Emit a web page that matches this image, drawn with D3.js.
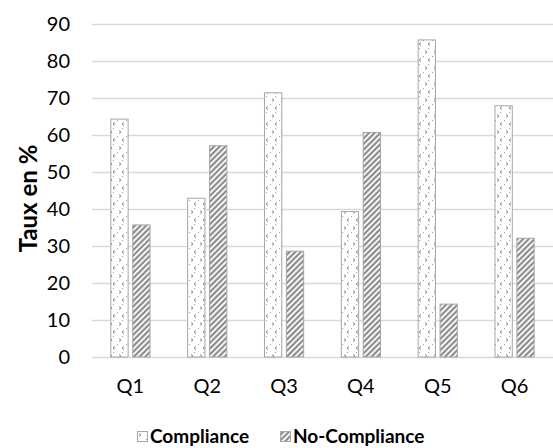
<!DOCTYPE html>
<html>
<head>
<meta charset="utf-8">
<script src="https://cdn.jsdelivr.net/npm/d3@7"></script>
<style>
  html, body { margin: 0; padding: 0; background: #fff; }
  svg { display: block; font-family: Lato, "Open Sans", sans-serif; }
</style>
</head>
<body>
<svg id="chart" width="553" height="448"></svg>
<script>
// Questions and the share of answers (%) per question
const categories = ["Q1", "Q2", "Q3", "Q4", "Q5", "Q6"];
const compliance = [64.3, 42.9, 71.4, 39.3, 85.7, 67.9];
const noCompliance = [35.7, 57.1, 28.6, 60.7, 14.3, 32.1];
const seriesNames = ["Compliance", "No-Compliance"];
const yTicks = [0, 10, 20, 30, 40, 50, 60, 70, 80, 90];
const yTitle = "Taux en %";

const svg = d3.select("#chart");
const plot = { left: 92, right: 553, top: 24, bottom: 357 };

const x = d3.scaleBand().domain(categories).range([plot.left, plot.right]).padding(0);
const y = d3.scaleLinear().domain([0, 90]).range([plot.bottom, plot.top]);

// Fill patterns
const defs = svg.append("defs");
const dots = defs.append("pattern")
  .attr("id", "pat-compliance")
  .attr("patternUnits", "userSpaceOnUse")
  .attr("width", 9).attr("height", 16);
dots.append("rect").attr("width", 9).attr("height", 16).attr("fill", "#fff");
dots.append("path")
  .attr("d", "M2,2.5 L4,4 L2,5.5 M7,10.5 L5,12 L7,13.5")
  .attr("fill", "none").attr("stroke", "#8a8a8a").attr("stroke-width", 1);
dots.append("rect").attr("x", 0).attr("y", 8).attr("width", 1).attr("height", 1).attr("fill", "#9a9a9a");
dots.append("rect").attr("x", 5).attr("y", 0).attr("width", 1).attr("height", 1).attr("fill", "#9a9a9a");

const stripes = defs.append("pattern")
  .attr("id", "pat-nocompliance")
  .attr("patternUnits", "userSpaceOnUse")
  .attr("width", 4).attr("height", 4)
  .attr("patternTransform", "rotate(45)");
stripes.append("rect").attr("width", 4).attr("height", 4).attr("fill", "#8c8c8c");
stripes.append("rect").attr("x", 0).attr("width", 1.8).attr("height", 4).attr("fill", "#fff");

// Gridlines
svg.append("g")
  .selectAll("line")
  .data(yTicks)
  .join("line")
  .attr("x1", plot.left).attr("x2", plot.right)
  .attr("y1", d => Math.round(y(d)) + 0.5).attr("y2", d => Math.round(y(d)) + 0.5)
  .attr("stroke", "#d9d9d9").attr("stroke-width", 1.5);

// Y axis labels
const yAxis = svg.append("g")
  .attr("transform", `translate(${plot.left},0)`)
  .call(d3.axisLeft(y).tickValues(yTicks).tickSize(0).tickPadding(22));
yAxis.select(".domain").remove();
yAxis.selectAll("text")
  .attr("font-family", "Lato, sans-serif")
  .attr("font-size", 20).attr("fill", "#000");

// X axis labels
const xAxis = svg.append("g")
  .attr("transform", `translate(0,${plot.bottom})`)
  .call(d3.axisBottom(x).tickSize(0).tickPadding(22));
xAxis.select(".domain").remove();
xAxis.selectAll("text")
  .attr("font-family", "Lato, sans-serif")
  .attr("font-size", 20).attr("fill", "#000");

// Bars
const bw = x.bandwidth() * 0.225;
const gap = x.bandwidth() * 0.06;
const series = [
  { name: seriesNames[0], values: compliance, fill: "url(#pat-compliance)", dx: -gap / 2 - bw },
  { name: seriesNames[1], values: noCompliance, fill: "url(#pat-nocompliance)", dx: gap / 2 }
];
series.forEach(s => {
  svg.append("g")
    .selectAll("rect")
    .data(categories.map((c, i) => ({ c, v: s.values[i] })))
    .join("rect")
    .attr("x", d => x(d.c) + x.bandwidth() / 2 + s.dx)
    .attr("y", d => y(d.v))
    .attr("width", bw)
    .attr("height", d => y(0) - y(d.v))
    .attr("fill", s.fill)
    .attr("stroke", "#a6a6a6")
    .attr("stroke-width", 1);
});

// Y axis title
svg.append("text")
  .attr("transform", `translate(37,${(plot.top + plot.bottom) / 2 + 8}) rotate(-90)`)
  .attr("text-anchor", "middle")
  .attr("font-family", "Lato, sans-serif")
  .attr("font-weight", "bold")
  .attr("font-size", 24)
  .text(yTitle);

// Legend
const legend = svg.append("g");
const legendX = [137, 280];
series.forEach((s, i) => {
  const g = legend.append("g").attr("transform", `translate(${legendX[i]},431)`);
  g.append("rect").attr("x", 0.5).attr("y", 0.5).attr("width", 10).attr("height", 10)
    .attr("fill", s.fill).attr("stroke", "#a6a6a6");
  g.append("text").attr("x", 13).attr("y", 12)
    .attr("font-family", "Lato, sans-serif")
    .attr("font-weight", "bold").attr("font-size", 19)
    .text(s.name);
});
</script>
</body>
</html>
